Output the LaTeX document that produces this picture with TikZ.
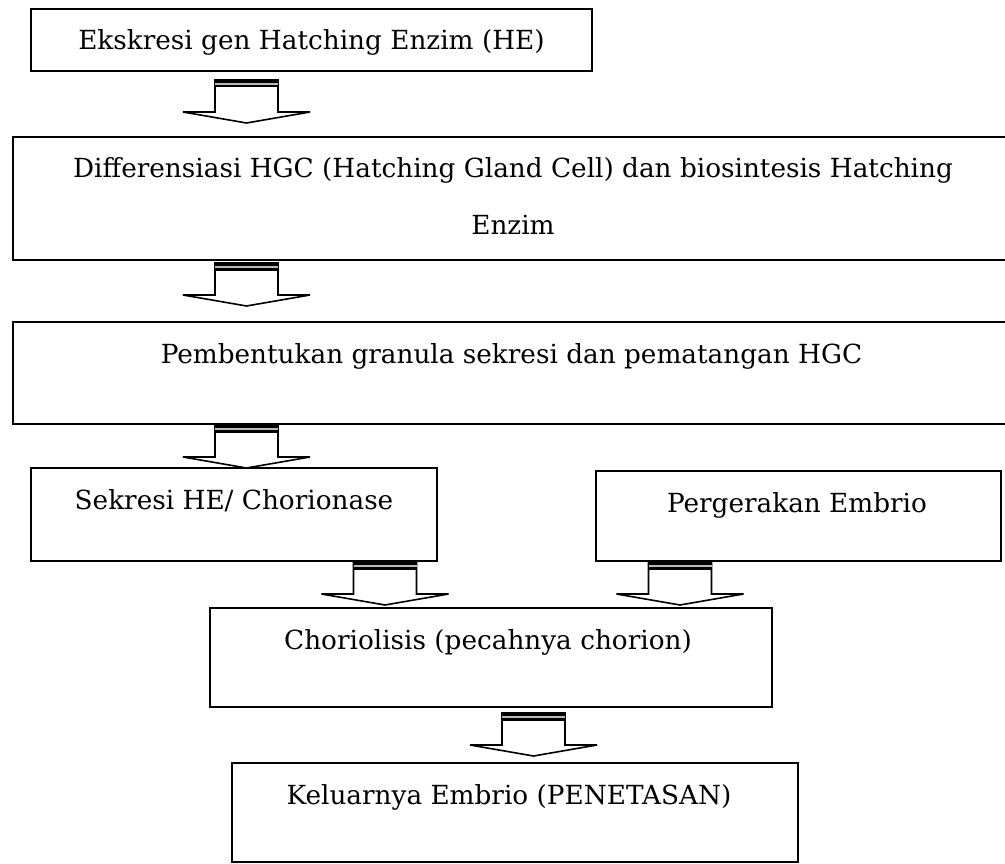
\documentclass[tikz,border=0pt]{standalone}
\usepackage{fontspec}
\setmainfont{DejaVu Serif}
\begin{document}
\begin{tikzpicture}[x=1pt,y=-1pt]
\tikzset{
  box/.style={draw, line width=1.8pt, anchor=north west, inner sep=0pt, outer sep=0pt},
  txt/.style={anchor=base, inner sep=0pt, align=center, font=\fontsize{26.3}{57}\selectfont},
  blockarr/.pic={
    \draw[line width=1.6pt, fill=white, line join=miter]
      (-31.5,0) -- (-31.5,32) -- (-63.5,32) -- (0,43) -- (63.5,32) -- (31.5,32) -- (31.5,0) -- cycle;
    \fill[black] (-32.3,0) rectangle (32.3,7.5);
    \fill[gray!55] (-31.5,3.2) rectangle (31.5,5.2);
  }
}
\useasboundingbox (0,0) rectangle (1005,864);
\fill[white] (0,0) rectangle (1005,864);
% boxes
\node[box, minimum width=561pt, minimum height=62pt] (b1) at (31,9) {};
\node[box, minimum width=995pt, minimum height=123pt] (b2) at (13,137) {};
\node[box, minimum width=995pt, minimum height=102pt] (b3) at (13,322) {};
\node[box, minimum width=406pt, minimum height=93pt] (b4) at (31,468) {};
\node[box, minimum width=405pt, minimum height=90pt] (b5) at (596,471) {};
\node[box, minimum width=562pt, minimum height=99pt] (b6) at (210,608) {};
\node[box, minimum width=566pt, minimum height=99pt] (b7) at (232,763) {};
% texts
\node[txt] (t1) at (311.5,50) {Ekskresi gen Hatching Enzim (HE)};
\node[txt, anchor=center] (t2) at (513,196) {Differensiasi HGC (Hatching Gland Cell) dan biosintesis Hatching\\Enzim};
\node[txt] (t3) at (511.5,363) {Pembentukan granula sekresi dan pematangan HGC};
\node[txt] (t4) at (234,509) {Sekresi HE/ Chorionase};
\node[txt] (t5) at (797,512) {Pergerakan Embrio};
\node[txt] (t6) at (488,649) {Choriolisis (pecahnya chorion)};
\node[txt] (t7) at (509,804) {Keluarnya Embrio (PENETASAN)};
% block arrows
\coordinate (a1) at (246.5,80);
\coordinate (a2) at (246.5,263);
\coordinate (a3) at (246.5,425);
\coordinate (a4) at (385,562);
\coordinate (a5) at (680,562);
\coordinate (a6) at (533.5,713);
\pic at (a1) {blockarr};
\pic at (a2) {blockarr};
\pic at (a3) {blockarr};
\pic at (a4) {blockarr};
\pic at (a5) {blockarr};
\pic at (a6) {blockarr};
\end{tikzpicture}
\end{document}
